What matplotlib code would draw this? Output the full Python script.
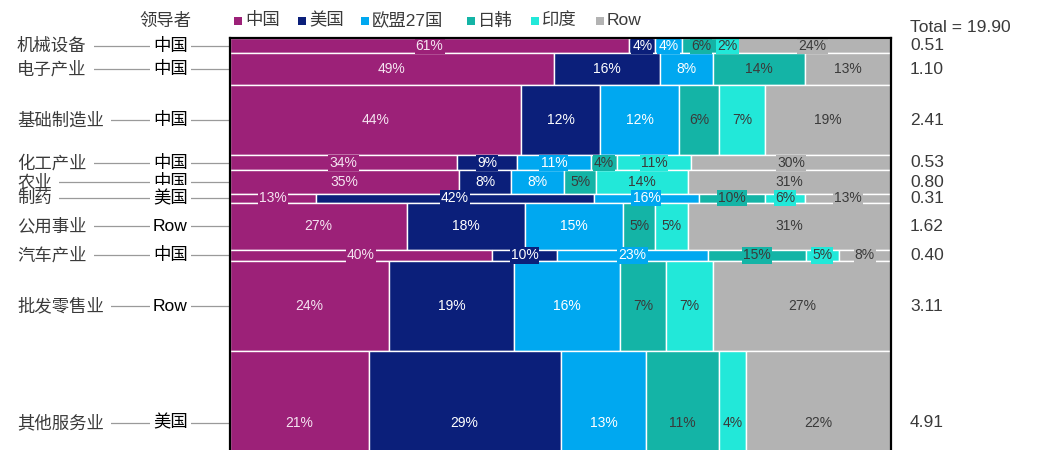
import matplotlib
matplotlib.use('Agg')
import matplotlib.pyplot as plt
import matplotlib.transforms as mtransforms
from matplotlib.patches import Rectangle

# ---------------- data ----------------
industries = ['机械设备', '电子产业', '基础制造业', '化工产业', '农业', '制药',
              '公用事业', '汽车产业', '批发零售业', '其他服务业']
leaders = ['中国', '中国', '中国', '中国', '中国', '美国', 'Row', '中国', 'Row', '美国']
totals = [0.51, 1.10, 2.41, 0.53, 0.80, 0.31, 1.62, 0.40, 3.11, 4.91]
grand_total = 19.90
regions = ['中国', '美国', '欧盟27国', '日韩', '印度', 'Row']
china = [61, 49, 44, 34, 35, 13, 27, 40, 24, 21]
usa = [4, 16, 12, 9, 8, 42, 18, 10, 19, 29]
eu27 = [4, 8, 12, 11, 8, 16, 15, 23, 16, 13]
jpkr = [6, 14, 6, 4, 5, 10, 5, 15, 7, 11]
india = [2, 0, 7, 11, 14, 6, 5, 5, 7, 4]
rest = [24, 13, 19, 30, 31, 13, 31, 8, 27, 22]
series = [china, usa, eu27, jpkr, india, rest]

# ---------------- style ----------------
colors = ['#9C2178', '#0B1F7A', '#00A8F0', '#14B4A6', '#22E8D9', '#B3B3B3']
txt_colors = ['#F5E4F1', '#FFFFFF', '#FFFFFF', '#3A3A3A', '#3A3A3A', '#3A3A3A']
FONT = ['Liberation Sans', 'Noto Sans CJK SC', 'DejaVu Sans']
plt.rcParams['font.family'] = FONT

W, H = 1058, 450
fig = plt.figure(figsize=(W / 100, H / 100), dpi=100)

PX_PER_UNIT = 29.0
top_px = 38.5
ax_left_px, ax_right_px = 230, 891
vis_total = sum(totals)
ax_h_px = vis_total * PX_PER_UNIT
ax = fig.add_axes([ax_left_px / W, 1 - (top_px + ax_h_px) / H,
                   (ax_right_px - ax_left_px) / W, ax_h_px / H])
ax.set_xlim(0, 1)
ax.set_ylim(vis_total, 0)
ax.set_xticks([])
ax.set_yticks([])
for s in ['left', 'right', 'top']:
    ax.spines[s].set_color('black')
    ax.spines[s].set_linewidth(1.6)
    ax.spines[s].set_zorder(50)
ax.spines['bottom'].set_visible(False)

ax_w_px = ax_right_px - ax_left_px
def axx(px):
    return (px - ax_left_px) / ax_w_px

trans = mtransforms.blended_transform_factory(ax.transAxes, ax.transData)

name_texts, leader_texts = [], []
y0 = 0.0
for i, tot in enumerate(totals):
    yc = y0 + tot / 2
    vals = [s[i] for s in series]
    ssum = float(sum(vals))
    left = 0.0
    for j, v in enumerate(vals):
        if v == 0:
            continue
        w = v / ssum
        ax.barh(yc, w, height=tot, left=left, color=colors[j],
                edgecolor='white', linewidth=1.0, zorder=2)
        left += w
    left = 0.0
    for j, v in enumerate(vals):
        if v == 0:
            continue
        w = v / ssum
        ax.text(left + w / 2, yc, f'{v}%', ha='center', va='center',
                fontsize=10, color=txt_colors[j], zorder=10,
                bbox=dict(boxstyle='square,pad=0.08', fc=colors[j], ec='none'))
        left += w

    # left labels with leader line
    ax.plot([axx(17), 0], [yc, yc], transform=trans, color='#9A9A9A',
            lw=0.9, clip_on=False, zorder=1)
    t1 = ax.text(axx(17), yc, industries[i], transform=trans, ha='left', va='center',
                 fontsize=12.5, color='#3A3A3A', zorder=21 + 2 * i)
    t2 = ax.text(axx(170.5), yc, leaders[i], transform=trans, ha='center', va='center',
                 fontsize=12.5, color='black', zorder=21 + 2 * i)
    name_texts.append(t1)
    leader_texts.append(t2)
    # right values
    ax.text(axx(910), yc, f'{tot:.2f}', transform=trans, ha='left', va='center',
            fontsize=12.5, color='#3A3A3A', zorder=20)
    y0 += tot

# white knock-out boxes behind the left labels (gap in leader lines / overlap)
renderer = fig.canvas.get_renderer()
def knockout(t, hpad, vpad_top, vpad_bot, z):
    bb = t.get_window_extent(renderer)
    r = Rectangle((bb.x0 - hpad, bb.y0 - vpad_bot), bb.width + 2 * hpad,
                  bb.height + vpad_top + vpad_bot, transform=None,
                  fc='white', ec='none', zorder=z, clip_on=False)
    ax.add_artist(r)

for i in range(len(totals)):
    knockout(name_texts[i], 7, -1.0, 0, 20 + 2 * i)
    knockout(leader_texts[i], 3, 5, 0, 20 + 2 * i)

fig.text(910 / W, 1 - 27 / H, f'Total = {grand_total:.2f}', ha='left', va='center',
         fontsize=12.5, color='#3A3A3A')

# legend
leg_y = 20.5
fig.text(192 / W, 1 - leg_y / H, '领导者', ha='right', va='center',
         fontsize=12.5, color='#3A3A3A')
legend_text_x = [245, 309, 372, 478, 542, 607]
for name, c, tx in zip(regions, colors, legend_text_x):
    fig.add_artist(Rectangle(((tx - 11) / W, 1 - (leg_y + 4) / H), 8 / W, 8 / H,
                             transform=fig.transFigure, fc=c, ec='none'))
    fig.text(tx / W, 1 - leg_y / H, name, ha='left', va='center',
             fontsize=12.5, color='#3A3A3A')

fig.savefig('out.png', dpi=100)
